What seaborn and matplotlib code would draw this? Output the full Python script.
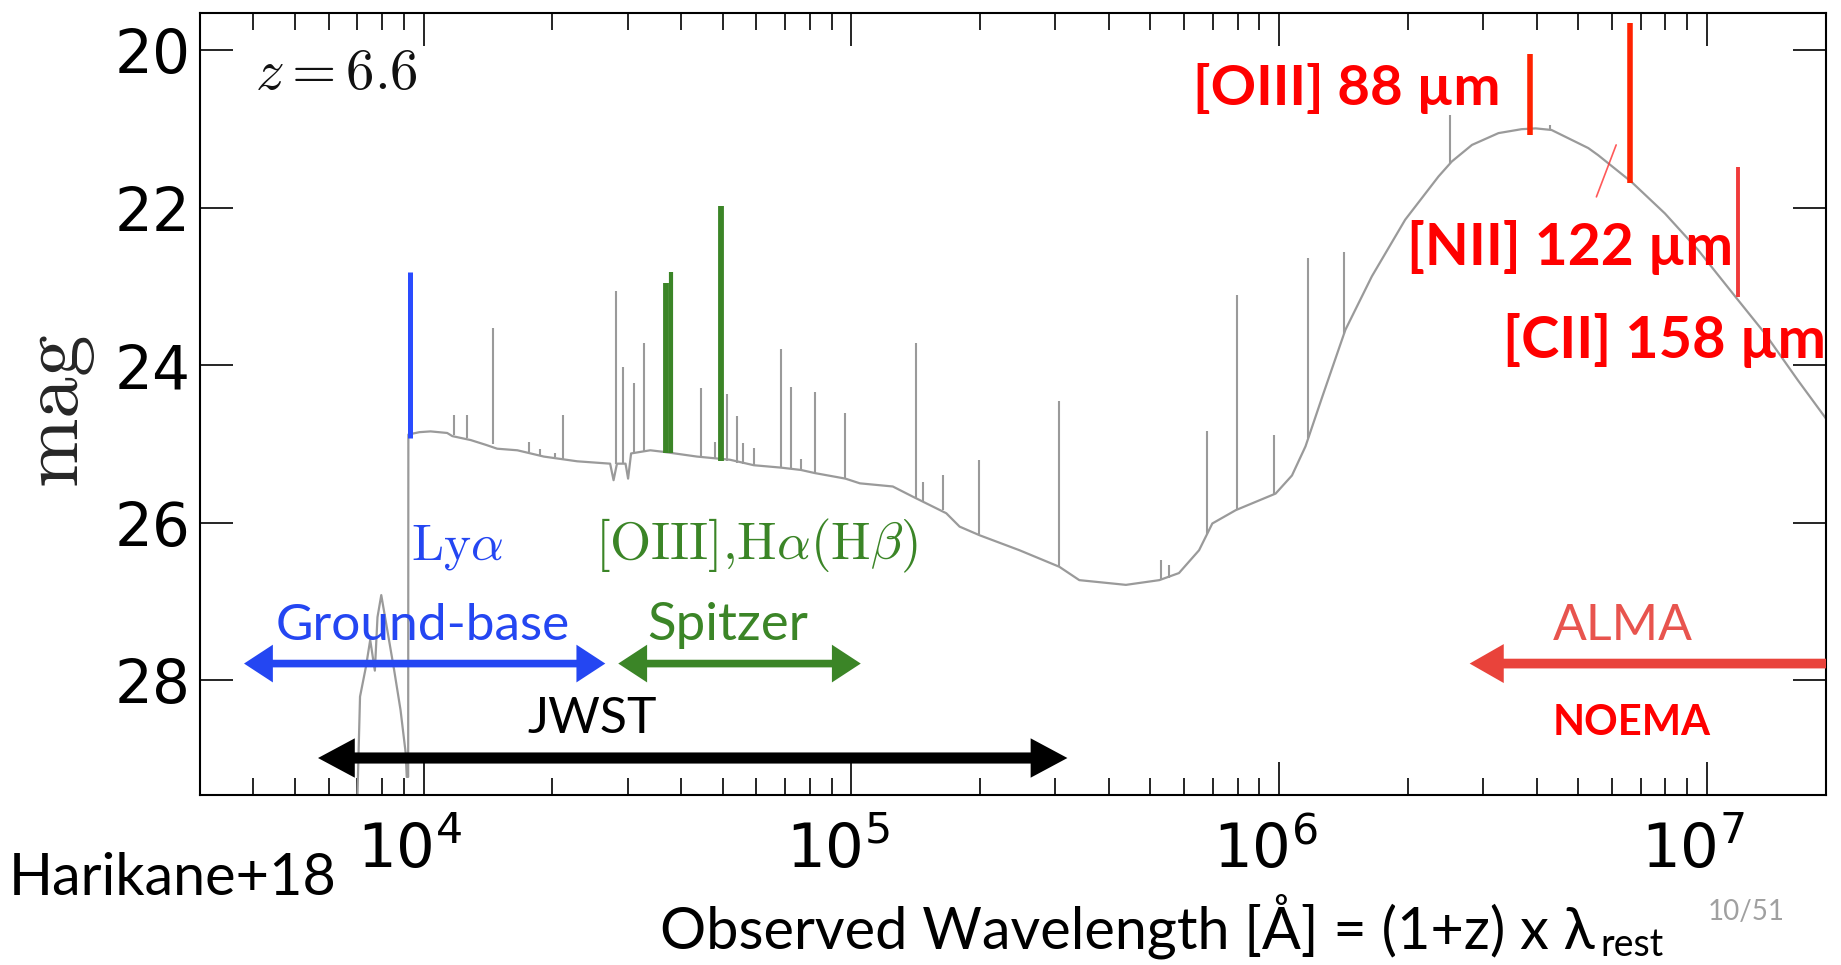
import numpy as np
import pandas as pd
import matplotlib
matplotlib.use("Agg")
import matplotlib.pyplot as plt
import matplotlib.transforms as mtransforms
from matplotlib.ticker import NullLocator, LogLocator
import seaborn as sns

# ---------------- data ----------------
# continuum of the model SED (observed wavelength [A], AB mag)
cont_wave = [7000, 7100, 7330, 7500, 7690, 7800, 7960, 8220, 8530, 8830, 9080,
             9130, 9200, 9210, 9770, 10380, 11350, 11670, 12880, 13960, 14860,
             16560, 19100, 22860, 27290, 27800, 28310, 29650, 30060, 30550,
             33880, 36390, 43550, 52000, 59160, 68390, 76210, 82220, 96830,
             104700, 125000, 139300, 166700, 179100, 199500, 247200, 306300,
             341200, 438500, 524800, 583400, 650100, 698200, 792500, 981700,
             1.072e6, 1.153e6, 1.262e6, 1.429e6, 1.648e6, 1.972e6, 2.360e6,
             2.535e6, 2.825e6, 3.258e6, 3.690e6, 3.981e6, 4.335e6, 5.284e6,
             5.572e6, 6.668e6, 7.980e6, 9.528e6, 1.183e7, 1.365e7, 1.633e7,
             1.884e7, 2.0e7]
cont_mag = [29.50, 28.21, 27.83, 27.49, 27.88, 27.20, 26.92, 27.36, 27.87, 28.38,
            28.93, 29.23, 29.23, 24.88, 24.85, 24.84, 24.86, 24.90, 24.95, 25.01,
            25.06, 25.08, 25.16, 25.22, 25.25, 25.46, 25.25, 25.25, 25.44, 25.12,
            25.08, 25.10, 25.16, 25.20, 25.27, 25.30, 25.33, 25.37, 25.44,
            25.50, 25.54, 25.67, 25.88, 26.05, 26.16, 26.35, 26.56,
            26.73, 26.79, 26.73, 26.64, 26.35, 26.01, 25.84, 25.63,
            25.40, 25.03, 24.40, 23.55, 22.87, 22.15, 21.60,
            21.41, 21.20, 21.05, 21.00, 20.99, 21.01, 21.24,
            21.33, 21.67, 22.07, 22.53, 23.17, 23.59, 24.19,
            24.65, 24.85]

# grey emission-line spikes: wavelength, continuum level, peak
spike_wave = [11780, 12650, 14520, 17660, 18750, 20230, 21230, 28180, 29310,
              31050, 32810, 44460, 47970, 51170, 54080, 55850, 59160, 68390,
              72280, 76210, 82220, 96830, 141900, 146900, 163700, 198600,
              306300, 528400, 553400, 679200, 796200, 972800, 1.169e6,
              1.416e6, 2.512e6, 4.295e6]
spike_base = [24.88, 24.93, 25.00, 25.10, 25.14, 25.17, 25.19, 25.25, 25.25,
              25.12, 25.09, 25.17, 25.18, 25.21, 25.24, 25.25, 25.27, 25.30,
              25.31, 25.33, 25.37, 25.44, 25.68, 25.72, 25.84, 26.15,
              26.56, 26.73, 26.70, 26.14, 25.83, 25.64, 24.92,
              23.60, 21.43, 21.01]
spike_peak = [24.63, 24.63, 23.53, 24.98, 25.06, 25.11, 24.63, 23.06, 24.02,
              24.23, 23.72, 24.29, 24.98, 24.36, 24.65, 24.99, 25.05, 23.79,
              24.27, 25.19, 24.34, 24.61, 23.72, 25.48, 25.39, 25.20,
              24.46, 26.47, 26.54, 24.84, 23.11, 24.89, 22.64,
              22.56, 20.82, 20.95]

# highlighted lines
lya_wave, lya_base, lya_peak = [9270], [24.93], [22.81]
opt_wave = [36900, 37900, 49500]          # H-beta, [OIII], H-alpha
opt_base = [25.12, 25.12, 25.22]
opt_peak = [22.96, 22.81, 21.98]
opt_width = [4.2, 3.0, 4.2]
fir_wave = [3.86e6, 6.62e6, 1.183e7]      # [OIII]88, [NII]122, [CII]158
fir_base = [21.07, 21.69, 23.13]
fir_peak = [20.04, 19.65, 21.48]

# instrument coverage (wavelength ranges)
ground_range = [3802, 26590]
spitzer_range = [28510, 105200]
jwst_range = [5663, 320000]
alma_range = [2.79e6, 1.9e7]

xlim = [3000, 1.9e7]
ylim = [29.46, 19.52]
yticks = [20, 22, 24, 26, 28]

# ---------------- style ----------------
sns.set_theme(style="ticks")
plt.rcParams["font.family"] = ["DejaVu Sans"]
plt.rcParams["mathtext.fontset"] = "dejavusans"
plt.rcParams["axes.edgecolor"] = "black"
plt.rcParams["xtick.color"] = "black"
plt.rcParams["ytick.color"] = "black"

CAL = ["Lato", "DejaVu Sans"]
GREY = "#9a9a9a"
BLUE = "#2446f2"
GREEN = "#3b8527"
RED = "#ff0000"

fig = plt.figure(figsize=(18.41, 9.65), dpi=100)
ax = fig.add_axes([0.10864, 0.17617, 0.88321, 0.81067])
ax.set_xscale("log")

spec = pd.DataFrame({"wave": cont_wave, "mag": cont_mag})
sns.lineplot(data=spec, x="wave", y="mag", sort=False, estimator=None,
             color=GREY, lw=1.6, ax=ax, zorder=2)
ax.vlines(spike_wave, spike_base, spike_peak, color=GREY, lw=1.5, zorder=2)

ax.vlines(lya_wave, lya_base, lya_peak, color="#2a4cff", lw=3.6, zorder=3)
for w, b, p, lw in zip(opt_wave, opt_base, opt_peak, opt_width):
    ax.vlines(w, b, p, color=GREEN, lw=lw, zorder=3)
ax.vlines(fir_wave[:2], fir_base[:2], fir_peak[:2], color="#ff2200", lw=4.0, zorder=3)
ax.vlines(fir_wave[2:], fir_base[2:], fir_peak[2:], color="#f03a3a", lw=2.8, zorder=3)
ax.plot([5.52e6, 6.14e6], [21.86, 21.20], color="#ff3030", lw=1.2, alpha=0.8, zorder=3)

def arrow(x0, x1, y, color, lw, style, hl, hw):
    ax.annotate("", xy=(x1, y), xytext=(x0, y), xycoords="data",
                arrowprops=dict(arrowstyle=f"{style},head_length={hl},head_width={hw}",
                                color=color, lw=lw, shrinkA=0, shrinkB=0,
                                mutation_scale=10, capstyle="butt",
                                joinstyle="miter"))

arrow(ground_range[0], ground_range[1], 27.79, BLUE, 5.5, "<|-|>", 1.3, 0.85)
arrow(spitzer_range[0], spitzer_range[1], 27.79, GREEN, 5.5, "<|-|>", 1.3, 0.85)
arrow(jwst_range[0], jwst_range[1], 28.99, "black", 8.0, "<|-|>", 1.4, 0.75)
arrow(alma_range[1], alma_range[0], 27.79, "#e9433b", 7.0, "-|>", 1.4, 0.8)

ax.set_xlim(xlim)
ax.set_ylim(ylim)
ax.set_yticks(yticks)
ax.yaxis.set_minor_locator(NullLocator())
ax.xaxis.set_major_locator(LogLocator(base=10, numticks=20))
ax.xaxis.set_minor_locator(LogLocator(base=10, subs=np.arange(2, 10), numticks=20))
ax.tick_params(which="both", direction="in", top=True, right=True, width=1.2)
ax.tick_params(which="major", length=24)
ax.tick_params(which="minor", length=12)
ax.tick_params(axis="y", labelsize=43, pad=7)
ax.tick_params(axis="x", labelsize=44, pad=19)
for s in ax.spines.values():
    s.set_linewidth(1.5)

ax.set_xlabel("")
ax.set_ylabel(r"$\mathrm{mag}$", fontsize=60, math_fontfamily="cm")
ax.yaxis.label.set_va("center")
ax.yaxis.label.set_rotation_mode("anchor")
ax.yaxis.set_label_coords(-0.0885, 0.49)

# in-plot labels
ax.text(4040, 20.49, r"$z=6.6$", fontsize=41, math_fontfamily="cm", color="#111111")
ax.text(9330, 26.47, r"$\mathrm{Ly}\alpha$", fontsize=37, math_fontfamily="cm", color=BLUE)
ax.text(25200, 26.47, r"$\mathrm{[OIII]{,}H}\alpha\mathrm{(H}\beta\mathrm{)}$", fontsize=38,
        math_fontfamily="cm", color=GREEN)
ax.text(9960, 27.49, "Ground-base", fontsize=37, family=CAL, color=BLUE, ha="center")
ax.text(51340, 27.49, "Spitzer", fontsize=38, family=CAL, color=GREEN, ha="center")
ax.text(24730, 28.67, "JWST", fontsize=36, family=CAL, color="black", ha="center")
ax.text(6.35e6, 27.49, "ALMA", fontsize=36, family=CAL, color="#e8544e", ha="center")
ax.text(6.68e6, 28.70, "NOEMA", fontsize=30, family=CAL, weight="bold", color=RED, ha="center")
ax.text(6.295e5, 20.69, "[OIII] 88 µm", fontsize=40.5, family=CAL, weight="bold", color=RED)
ax.text(1.986e6, 22.73, "[NII] 122 µm", fontsize=41, family=CAL, weight="bold", color=RED)
ax.text(3.342e6, 23.91, "[CII] 158 µm", fontsize=41.5, family=CAL, weight="bold", color=RED)

# slide-level text
fig.text(9 / 1841, 0.0725, "Harikane+18", fontsize=41.5, family=CAL, color="black")
fig.text(660 / 1841, 0.0176, "Observed Wavelength [Å] = (1+z) x λ",
         fontsize=41.5, family=CAL, color="black")
fig.text(1600 / 1841, 0.0095, "rest", fontsize=27, family=CAL, color="black")
fig.text(1708 / 1841, 0.0466, "10/51", fontsize=20, family=CAL, color="#a0a0a0")

# shift x tick labels slightly left, as in the reference rendering
fig.canvas.draw()
shift = mtransforms.ScaledTranslation(-10 / 72, 0, fig.dpi_scale_trans)
for t in ax.xaxis.get_major_ticks():
    t.label1.set_transform(t.label1.get_transform() + shift)

fig.savefig("out.png", dpi=100)
